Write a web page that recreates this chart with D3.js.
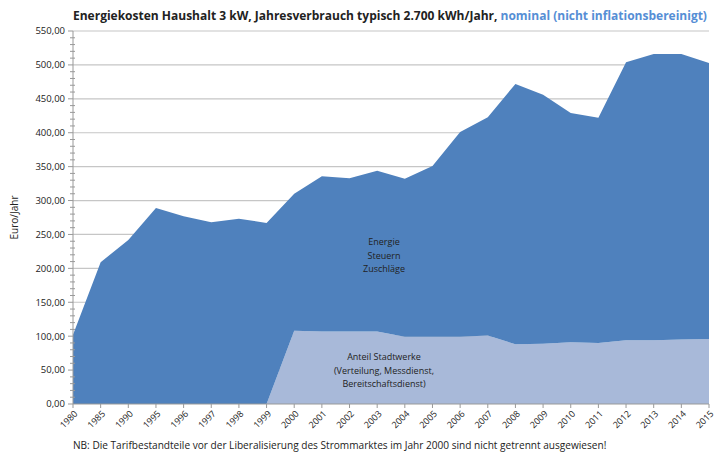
<!DOCTYPE html>
<html>
<head>
<meta charset="utf-8">
<script src="https://cdn.jsdelivr.net/npm/d3@7"></script>
<style>
  body { margin: 0; background: #fff; }
  svg text { font-family: "Open Sans", "Noto Sans", sans-serif; fill: #222; }
</style>
</head>
<body>
<div id="chart"></div>
<script>
const years = ["1980", "1985", "1990", "1995", "1996", "1997", "1998", "1999", "2000", "2001", "2002",
  "2003", "2004", "2005", "2006", "2007", "2008", "2009", "2010", "2011", "2012", "2013", "2014", "2015"];

// Anteil Stadtwerke (light area, bottom)
const stadtwerke = [0, 0, 0, 0, 0, 0, 0, 0, 108, 107, 107, 107, 99, 99, 99, 101, 88, 89, 91, 90, 94, 94, 95, 96];
// Energie / Steuern / Zuschläge (dark area, stacked on top)
const energie = [102, 209, 242, 289, 277, 268, 273, 267, 202, 229, 226, 237, 233, 252, 302, 322, 384, 367, 338, 332, 410, 422, 421, 407];

const yTicks = [0, 50, 100, 150, 200, 250, 300, 350, 400, 450, 500, 550];

const width = 726, height = 453;
const margin = { top: 31, right: 17, bottom: 49, left: 73 };

const svg = d3.select("#chart").append("svg")
  .attr("width", width)
  .attr("height", height);

const x = d3.scalePoint()
  .domain(years)
  .range([margin.left, width - margin.right]);

const y = d3.scaleLinear()
  .domain([0, 550])
  .range([height - margin.bottom, margin.top]);

const rows = years.map((yr, i) => ({ year: yr, stadtwerke: stadtwerke[i], energie: energie[i] }));
const series = d3.stack().keys(["stadtwerke", "energie"])(rows);
const colors = { stadtwerke: "#a8b9d9", energie: "#4f81bd" };

// gridlines
svg.append("g")
  .selectAll("line")
  .data(yTicks.slice(1))
  .enter().append("line")
  .attr("x1", margin.left)
  .attr("x2", width - margin.right)
  .attr("y1", d => y(d))
  .attr("y2", d => y(d))
  .attr("stroke", "#c6c6c6")
  .attr("stroke-width", 1.2);

const area = d3.area()
  .x(d => x(d.data.year))
  .y0(d => y(d[0]))
  .y1(d => y(d[1]));

svg.append("g")
  .selectAll("path")
  .data(series)
  .enter().append("path")
  .attr("d", area)
  .attr("fill", d => colors[d.key]);

// y axis
const yAxis = svg.append("g").attr("transform", `translate(${margin.left},0)`);
yAxis.append("line")
  .attr("y1", y(0)).attr("y2", y(550))
  .attr("stroke", "#999");
yAxis.selectAll(".minor")
  .data(d3.range(0, 551, 10).filter(v => v % 50 !== 0))
  .enter().append("line")
  .attr("x1", -3).attr("x2", 2)
  .attr("y1", d => y(d)).attr("y2", d => y(d))
  .attr("stroke", "#999");
yAxis.selectAll(".major")
  .data(yTicks)
  .enter().append("line")
  .attr("x1", -5).attr("x2", 0)
  .attr("y1", d => y(d)).attr("y2", d => y(d))
  .attr("stroke", "#999");
yAxis.selectAll("text")
  .data(yTicks)
  .enter().append("text")
  .attr("x", -8)
  .attr("y", d => y(d))
  .attr("dy", "0.35em")
  .attr("text-anchor", "end")
  .attr("font-size", "9.5px")
  .text(d => d3.format(".2f")(d).replace(".", ","));

// x axis
const xAxis = svg.append("g").attr("transform", `translate(0,${y(0)})`);
xAxis.append("line")
  .attr("x1", margin.left).attr("x2", width - margin.right)
  .attr("stroke", "#999");
xAxis.selectAll(".tick")
  .data(years)
  .enter().append("line")
  .attr("x1", d => x(d)).attr("x2", d => x(d))
  .attr("y1", 0).attr("y2", 4)
  .attr("stroke", "#999");
xAxis.selectAll("text")
  .data(years)
  .enter().append("text")
  .attr("transform", d => `translate(${x(d) + 3},${8}) rotate(-45)`)
  .attr("text-anchor", "end")
  .attr("dy", "0.35em")
  .attr("font-size", "9px")
  .text(d => d);

// y label
svg.append("text")
  .attr("transform", `translate(18,${(y(0) + y(550)) / 2}) rotate(-90)`)
  .attr("text-anchor", "middle")
  .attr("font-size", "10px")
  .text("Euro/Jahr");

// title
const title = svg.append("text")
  .attr("x", 73)
  .attr("y", 20)
  .attr("font-size", "12px")
  .attr("font-weight", "bold");
title.append("tspan").text("Energiekosten Haushalt 3 kW, Jahresverbrauch typisch 2.700 kWh/Jahr, ");
title.append("tspan").style("fill", "#558ed5").text("nominal (nicht inflationsbereinigt)");

// area labels
const labels = [
  { lines: ["Energie", "Steuern", "Zuschläge"], y0: 242 },
  { lines: ["Anteil Stadtwerke", "(Verteilung, Messdienst,", "Bereitschaftsdienst)"], y0: 357 }
];
labels.forEach(l => {
  svg.append("g").selectAll("text")
    .data(l.lines)
    .enter().append("text")
    .attr("x", 384)
    .attr("y", (d, i) => l.y0 + i * 13.5)
    .attr("dy", "0.35em")
    .attr("text-anchor", "middle")
    .attr("font-size", "9px")
    .text(d => d);
});

// footnote
svg.append("text")
  .attr("x", 73)
  .attr("y", 449)
  .attr("font-size", "10.1px")
  .text("NB: Die Tarifbestandteile vor der Liberalisierung des Strommarktes im Jahr 2000 sind nicht getrennt ausgewiesen!");
</script>
</body>
</html>
